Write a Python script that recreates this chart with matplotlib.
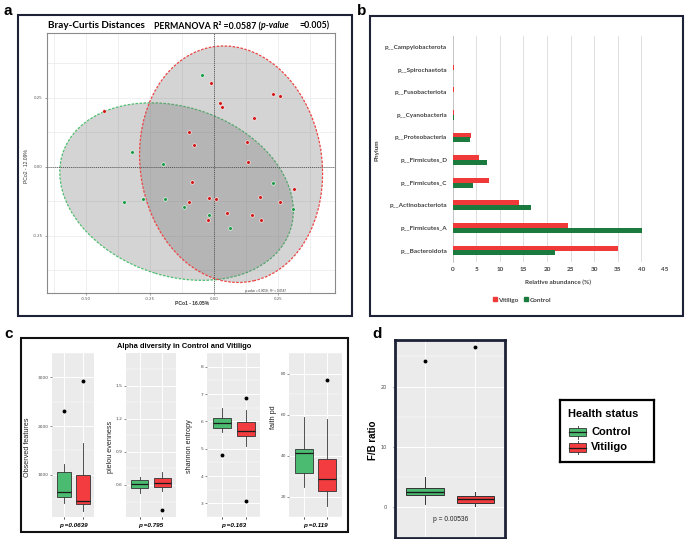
import matplotlib
matplotlib.use("Agg")
import matplotlib.pyplot as plt
from matplotlib.patches import Ellipse, Rectangle, Patch
from matplotlib.lines import Line2D
from matplotlib.ticker import MultipleLocator

W, H = 685, 539

# ---- panel a: PCoA (Bray-Curtis) ----
CTRL_PC1 = [-0.048, -0.320, -0.199, -0.352, -0.276, -0.190, -0.118, -0.020, 0.062, 0.230, 0.309]
CTRL_PC2 = [0.333, 0.054, 0.010, -0.128, -0.118, -0.118, -0.144, -0.175, -0.221, -0.059, -0.152]
VIT_PC1 = [-0.428, -0.013, 0.022, 0.030, 0.229, 0.259, 0.157, -0.096, -0.078, 0.130, 0.133,
           -0.086, -0.099, -0.018, 0.009, -0.023, 0.052, 0.150, 0.185, 0.180, 0.259, 0.313]
VIT_PC2 = [0.203, 0.302, 0.229, 0.216, 0.262, 0.256, 0.176, 0.126, 0.079, 0.091, 0.017,
           -0.057, -0.126, -0.113, -0.117, -0.192, -0.166, -0.176, -0.194, -0.111, -0.129, -0.081]
# ellipse: centre x, centre y, width, height, angle
CTRL_ELLIPSE = [-0.146, -0.090, 0.932, 0.614, -15.7]
VIT_ELLIPSE = [0.067, 0.009, 0.708, 0.862, 11.8]

# ---- panel b: phylum relative abundance ----
PHYLA = ["p__Bacteroidota", "p__Firmicutes_A", "p__Actinobacteriota", "p__Firmicutes_C",
         "p__Firmicutes_D", "p__Proteobacteria", "p__Cyanobacteria", "p__Fusobacteriota",
         "p__Spirochaetota", "p__Campylobacterota"]
VIT_ABUND = [35.1, 24.5, 14.0, 7.8, 5.5, 3.8, 0.28, 0.30, 0.30, 0.05]
CTRL_ABUND = [21.7, 40.1, 16.7, 4.4, 7.2, 3.7, 0.28, 0.15, 0.10, 0.03]

# ---- panel c: alpha diversity boxplots [whislo, q1, med, q3, whishi] ----
ALPHA_LABELS = ["Observed features", "pielou evenness", "shannon entropy", "faith pd"]
ALPHA_CTRL = [[420, 540, 641, 1066, 1230], [0.530, 0.576, 0.609, 0.645, 0.675],
              [5.62, 5.77, 5.94, 6.11, 6.47], [24.7, 31.5, 41.1, 43.1, 58.6]]
ALPHA_VIT = [[258, 390, 461, 989, 1659], [0.548, 0.585, 0.621, 0.661, 0.715],
             [5.09, 5.48, 5.65, 5.97, 6.42], [15.5, 22.6, 28.7, 38.1, 57.6]]
ALPHA_CTRL_OUT = [[2300], [], [4.75], []]
ALPHA_VIT_OUT = [[2922], [0.373], [6.86, 3.08], [76.9]]
ALPHA_P = ["p =0.0639", "p =0.795", "p =0.163", "p =0.119"]
ALPHA_YTICKS = [[1000, 2000, 3000], [0.6, 0.9, 1.2, 1.5], [3, 4, 5, 6, 7, 8], [20, 40, 60, 80]]
ALPHA_YTICKLABELS = [["1000", "2000", "3000"], ["0.6", "0.9", "1.2", "1.5"],
                     ["3", "4", "5", "6", "7", "8"], ["20", "40", "60", "80"]]
ALPHA_YLIM = [(133, 3077), (0.31, 1.796), (2.84, 8.12), (12.4, 81.8)]

# ---- panel d: F/B ratio ----
FB_CTRL = [0.48, 1.96, 2.59, 3.23, 5.0]
FB_VIT = [0.27, 0.79, 1.38, 1.8, 2.48]
FB_CTRL_OUT = [24.3]
FB_VIT_OUT = [26.6]
FB_P = "p = 0.00536"

GREEN_PT = "#1a9a45"
RED_PT = "#d01818"
BAR_RED = "#f03a3a"
BAR_GREEN = "#1b7a3d"
BOX_GREEN = "#4cbb72"
BOX_RED = "#f23c40"
FRAME = "#1d2236"

CAL = ["Lato", "DejaVu Sans"]
ARIAL = ["Liberation Sans", "DejaVu Sans"]


def rect(x0, y0, x1, y1):
    return [x0 / W, 1 - y1 / H, (x1 - x0) / W, (y1 - y0) / H]


fig = plt.figure(figsize=(W / 100, H / 100), dpi=100)
fig.patch.set_facecolor("white")
renderer = fig.canvas.get_renderer()

# overlay in pixel coordinates for frames and free text
ov = fig.add_axes([0, 0, 1, 1])
ov.set_xlim(0, W)
ov.set_ylim(H, 0)
ov.set_axis_off()
for x0, y0, x1, y1, col in [(18, 15, 352, 316, FRAME), (370, 16, 683, 316, FRAME),
                            (20.7, 338.3, 348.3, 532.3, "#111111")]:
    ov.add_patch(Rectangle((x0, y0), x1 - x0, y1 - y0, fill=False, ec=col, lw=1.5))
for lab, x, y in [("a", 4, 11), ("b", 357, 11), ("c", 4, 334), ("d", 372, 334)]:
    ov.text(x, y, lab, fontsize=11, fontweight="bold", family=ARIAL, va="center", ha="left")


def chain(pieces, x_start, x_end, y, size):
    # lay out text pieces one after another, scaled to fill x_start..x_end
    def place(sz):
        objs = []
        x = x_start
        for txt, style, gap in pieces:
            t = ov.text(x, y, txt, fontsize=sz, fontweight="bold", style=style, family=CAL,
                        va="center", ha="left")
            x += t.get_window_extent(renderer).width + gap
            objs.append(t)
        return objs, x - pieces[-1][2]
    objs, x_last = place(size)
    for t in objs:
        t.remove()
    size = size * (x_end - x_start) / (x_last - x_start)
    place(size)


# ---- panel a ----
ax = fig.add_axes(rect(47, 33, 335, 293))
ax.set_xlim(-0.652, 0.473)
ax.set_ylim(-0.457, 0.484)
ax.xaxis.set_major_locator(MultipleLocator(0.25))
ax.yaxis.set_major_locator(MultipleLocator(0.25))
ax.xaxis.set_minor_locator(MultipleLocator(0.125))
ax.yaxis.set_minor_locator(MultipleLocator(0.125))
ax.grid(True, which="both", color="#ededed", lw=0.6)
ax.set_axisbelow(True)
for s in ax.spines.values():
    s.set_color("#8a8a8a")
    s.set_linewidth(0.8)
ax.tick_params(which="major", labelsize=2.8, colors="#555555", length=1.5, width=0.4, pad=1.5)
ax.tick_params(which="minor", length=0)
ax.set_xticks([-0.5, -0.25, 0, 0.25])
ax.set_xticklabels(["-0.50", "-0.25", "0.00", "0.25"])
ax.set_yticks([-0.25, 0, 0.25])
ax.set_yticklabels(["-0.25", "0.00", "0.25"])
for el, col in [(CTRL_ELLIPSE, "#4fbf6f"), (VIT_ELLIPSE, "#ee4444")]:
    ax.add_patch(Ellipse((el[0], el[1]), el[2], el[3], angle=el[4],
                         fc=(0.42, 0.42, 0.42, 0.29), ec=col, lw=0.9, ls=(0, (2, 1.2)), zorder=2))
ax.axvline(0, color="#555555", lw=0.7, ls=(0, (1, 1)), zorder=3)
ax.axhline(0, color="#555555", lw=0.7, ls=(0, (1, 1)), zorder=3)
ax.scatter(CTRL_PC1, CTRL_PC2, s=7, c=GREEN_PT, edgecolors="white", linewidths=0.4, zorder=4)
ax.scatter(VIT_PC1, VIT_PC2, s=7, c=RED_PT, edgecolors="white", linewidths=0.4, zorder=4)
ax.text(0.203, -0.449, "p-value = 0.0058 ; R\u00b2 = 0.0587", fontsize=2.2, ha="center",
        va="center", color="#333333", family=ARIAL)
chain([("Bray-Curtis Distances", "normal", 0)], 47.7, 144, 26, 7.2)
chain([("PERMANOVA R\u00b2 =0.0587 (", "normal", 0), ("p-value", "italic", 11),
       ("=0.005)", "normal", 0)], 154, 327, 26, 7.2)
ov.text(191.7, 303.5, "PCo1 - 16.05%", fontsize=3.6, fontweight="bold", family=ARIAL,
        ha="center", va="center", color="#333333")
ov.text(27, 166, "PCo2 - 12.09%", fontsize=3.6, family=ARIAL, rotation=90,
        ha="center", va="center", color="#333333")

# ---- panel b ----
ax = fig.add_axes(rect(452.7, 35.8, 665, 261.8))
ypos = list(range(len(PHYLA)))
ax.barh([y + 0.11 for y in ypos], VIT_ABUND, height=0.22, color=BAR_RED, label="Vitiligo", zorder=3)
ax.barh([y - 0.11 for y in ypos], CTRL_ABUND, height=0.22, color=BAR_GREEN, label="Control", zorder=3)
ax.set_xlim(0, 45)
ax.set_ylim(-0.5, 9.5)
ax.set_xticks(range(0, 46, 5))
ax.set_yticks(ypos)
ax.set_yticklabels(PHYLA)
ax.grid(True, axis="x", color="#d9d9d9", lw=0.6)
ax.set_axisbelow(True)
for k in ["top", "right", "bottom"]:
    ax.spines[k].set_visible(False)
ax.spines["left"].set_color("#bfbfbf")
ax.spines["left"].set_linewidth(0.6)
ax.tick_params(length=0, labelsize=4.6, colors="#404040", pad=4)
for t in ax.get_xticklabels() + ax.get_yticklabels():
    t.set_fontweight("bold")
    t.set_family(CAL)
ov.text(558, 282, "Relative abundance (%)", fontsize=4.6, fontweight="bold", family=CAL,
        ha="center", va="center", color="#404040")
ov.text(377, 150, "Phylum", fontsize=4.6, fontweight="bold", family=CAL, rotation=90,
        ha="center", va="center", color="#404040")
fig.legend(handles=[Patch(color=BAR_RED, label="Vitiligo"), Patch(color=BAR_GREEN, label="Control")],
           loc="center", bbox_to_anchor=(522 / W, 1 - 300 / H), ncol=2, frameon=False,
           prop={"family": CAL, "weight": "bold", "size": 4.6}, handlelength=0.6, handleheight=0.6,
           columnspacing=0.8, handletextpad=0.3, labelcolor="#404040")


def stats(five, out):
    return {"whislo": five[0], "q1": five[1], "med": five[2], "q3": five[3],
            "whishi": five[4], "fliers": out}


def boxes(ax, ctrl, vit, ctrl_out, vit_out, lw=0.6):
    res = ax.bxp([stats(ctrl, ctrl_out), stats(vit, vit_out)], positions=[1, 2], widths=0.75,
                 patch_artist=True, showcaps=False,
                 boxprops=dict(ec="#333333", lw=lw),
                 medianprops=dict(color="#1a1a1a", lw=lw + 0.3),
                 whiskerprops=dict(color="#333333", lw=lw),
                 flierprops=dict(marker="o", ms=1.8, mfc="black", mec="black"))
    res["boxes"][0].set_facecolor(BOX_GREEN)
    res["boxes"][1].set_facecolor(BOX_RED)
    for b in res["boxes"]:
        b.set_zorder(3)
    for m in res["medians"]:
        m.set_zorder(4)


def gg_panel(ax):
    ax.set_facecolor("#ebebeb")
    for s in ax.spines.values():
        s.set_visible(False)
    ax.grid(True, which="major", color="white", lw=0.7)
    ax.grid(True, which="minor", axis="y", color="white", lw=0.35)
    ax.set_axisbelow(True)
    ax.set_xlim(0.4, 2.6)
    ax.set_xticks([1, 2])
    ax.tick_params(which="major", length=1.5, width=0.4, colors="#333333", labelsize=3.2,
                   labelcolor="#4d4d4d", pad=1, labelbottom=False)
    ax.tick_params(which="minor", length=0)


# ---- panel c ----
C_X = [(52.3, 94.3), (126, 176), (207.3, 260), (289.3, 341.7)]
C_YLAB = [(28, 447), (111, 447), (190, 446), (274, 417)]
for i in range(4):
    x0, x1 = C_X[i]
    ax = fig.add_axes(rect(x0, 353, x1, 517))
    gg_panel(ax)
    ax.set_ylim(*ALPHA_YLIM[i])
    ax.set_yticks(ALPHA_YTICKS[i])
    ax.set_yticklabels(ALPHA_YTICKLABELS[i])
    ticks = ALPHA_YTICKS[i]
    step = ticks[1] - ticks[0]
    ax.set_yticks([t + step / 2 for t in [ticks[0] - step] + ticks], minor=True)
    boxes(ax, ALPHA_CTRL[i], ALPHA_VIT[i], ALPHA_CTRL_OUT[i], ALPHA_VIT_OUT[i])
    ov.text((x0 + x1) / 2, 525, ALPHA_P[i], fontsize=4.6, fontweight="bold", style="italic",
            family=ARIAL, ha="center", va="center")
    ov.text(C_YLAB[i][0], C_YLAB[i][1], ALPHA_LABELS[i], fontsize=5.2, family=ARIAL, rotation=90,
            ha="center", va="center", color="#222222")
ov.text(184, 347, "Alpha diversity in Control and Vitiligo", fontsize=5.4, fontweight="bold",
        family=ARIAL, ha="center", va="center")

# ---- panel d ----
ax = fig.add_axes(rect(395, 340, 505.5, 537.5))
gg_panel(ax)
ax.set_ylim(-3.3, 27.7)
ax.set_yticks([0, 10, 20])
ax.set_yticks([-5, 5, 15, 25], minor=True)
ax.tick_params(labelsize=3.6, pad=4)
for s in ax.spines.values():
    s.set_visible(True)
    s.set_color(FRAME)
    s.set_linewidth(2.0)
boxes(ax, FB_CTRL, FB_VIT, FB_CTRL_OUT, FB_VIT_OUT, lw=0.7)
ax.text(1.5, -2.1, FB_P, fontsize=4.8, family=ARIAL, ha="center", va="center", color="#222222")
ov.text(373, 440, "F/B ratio", fontsize=7, fontweight="bold", family=ARIAL, rotation=90,
        ha="center", va="center")

# legend for health status
lg = fig.add_axes(rect(560, 400, 654, 461.7))
lg.set_xlim(560, 654)
lg.set_ylim(461.7, 400)
lg.set_xticks([])
lg.set_yticks([])
for s in lg.spines.values():
    s.set_linewidth(1.6)
    s.set_color("black")
lg.text(567.5, 414, "Health status", fontsize=8, fontweight="bold", family=ARIAL, va="center")
for col, lab, yc in [(BOX_GREEN, "Control", 432), (BOX_RED, "Vitiligo", 447.5)]:
    lg.add_line(Line2D([577.5, 577.5], [yc - 6.5, yc + 6.5], color="#333333", lw=0.6))
    lg.add_patch(Rectangle((569, yc - 4.3), 17, 8.6, fc=col, ec="#333333", lw=0.6, zorder=3))
    lg.add_line(Line2D([569, 586], [yc, yc], color="#1a1a1a", lw=0.9, zorder=4))
    lg.text(591, yc, lab, fontsize=8, fontweight="bold", family=ARIAL, va="center")

fig.savefig("out.png", dpi=100, facecolor="white")
